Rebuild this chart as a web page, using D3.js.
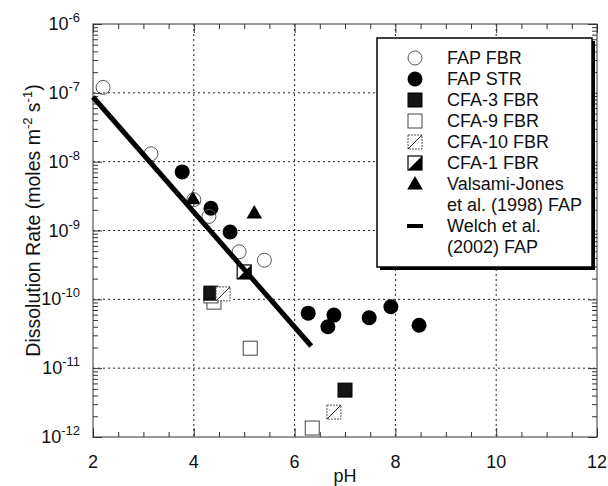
<!DOCTYPE html>
<html>
<head>
<meta charset="utf-8">
<script src="https://cdn.jsdelivr.net/npm/d3@7"></script>
<style>
  html, body { margin: 0; padding: 0; background: #fff; }
  svg { display: block; }
  text { font-family: "Liberation Sans", Arial, Helvetica, sans-serif; fill: #111; }
</style>
</head>
<body>
<svg id="chart" width="608" height="486"></svg>
<script>
// ---------------- data ----------------
const fapFbrPH   = [2.2, 3.15, 4.0, 4.3, 4.9, 5.4];
const fapFbrRate = [1.2e-7, 1.3e-8, 2.8e-9, 1.6e-9, 4.9e-10, 3.7e-10];

const fapStrPH   = [3.77, 4.34, 4.72, 6.27, 6.78, 6.66, 7.48, 7.91, 8.47];
const fapStrRate = [7.1e-9, 2.1e-9, 9.5e-10, 6.3e-11, 5.9e-11, 4.0e-11, 5.4e-11, 7.8e-11, 4.2e-11];

const cfa3PH   = [4.34, 7.0];
const cfa3Rate = [1.23e-10, 4.8e-12];

const cfa9PH   = [4.4, 4.34, 5.12, 6.35];
const cfa9Rate = [9.1e-11, 1.12e-10, 1.95e-11, 1.35e-12];

const cfa10PH   = [4.58, 6.78];
const cfa10Rate = [1.2e-10, 2.3e-12];

const cfa1PH   = [5.0];
const cfa1Rate = [2.5e-10];

const valsamiPH   = [3.98, 5.2];
const valsamiRate = [2.9e-9, 1.8e-9];

const welchPH   = [2.0, 6.33];
const welchRate = [8.7e-8, 2.1e-11];

const xTickValues = [2, 4, 6, 8, 10, 12];
const yTickExponents = [-6, -7, -8, -9, -10, -11, -12];

const legendLabels = [
  ["FAP FBR"], ["FAP STR"], ["CFA-3 FBR"], ["CFA-9 FBR"], ["CFA-10 FBR"],
  ["CFA-1 FBR"], ["Valsami-Jones", "et al. (1998) FAP"], ["Welch et al.", "(2002) FAP"]
];
const legendKeys = ["fapFbr", "fapStr", "cfa3", "cfa9", "cfa10", "cfa1", "valsami", "welch"];

const xLabel = "pH";

// ---------------- layout ----------------
const L = 93, R = 597, T = 24, B = 437;
const svg = d3.select("#chart");

const x = d3.scaleLinear().domain([2, 12]).range([L, R]);
const y = d3.scaleLog().domain([1e-12, 1e-6]).range([B, T]);

// grid (dotted)
const grid = svg.append("g");
[4, 6, 8, 10].forEach(v => {
  grid.append("line").attr("x1", x(v)).attr("x2", x(v)).attr("y1", T).attr("y2", B)
    .attr("stroke", "#222").attr("stroke-width", 1).attr("stroke-dasharray", "2,3");
});
[1e-7, 1e-8, 1e-9, 1e-10, 1e-11].forEach(v => {
  grid.append("line").attr("x1", L).attr("x2", R).attr("y1", y(v)).attr("y2", y(v))
    .attr("stroke", "#222").attr("stroke-width", 1).attr("stroke-dasharray", "2,3");
});

// frame
svg.append("rect").attr("x", L).attr("y", T).attr("width", R - L).attr("height", B - T)
  .attr("fill", "none").attr("stroke", "#555").attr("stroke-width", 1.2);

// ticks via d3 axes (inward)
const xMinor = d3.range(2, 12.01, 0.5).filter(v => v % 2 !== 0);
const yMinor = [];
for (let e = -12; e < -6; e++) for (let m = 2; m <= 9; m++) yMinor.push(m * Math.pow(10, e));

function styleAxis(g) {
  g.select(".domain").remove();
  g.selectAll(".tick line").attr("stroke", "#333").attr("stroke-width", 1);
  g.selectAll(".tick text").remove();
}
svg.append("g").attr("transform", `translate(0,${B})`)
  .call(d3.axisBottom(x).tickValues(xTickValues).tickSize(-9)).call(styleAxis);
svg.append("g").attr("transform", `translate(0,${B})`)
  .call(d3.axisBottom(x).tickValues(xMinor).tickSize(-5)).call(styleAxis);
svg.append("g").attr("transform", `translate(0,${T})`)
  .call(d3.axisTop(x).tickValues(xTickValues).tickSize(-9)).call(styleAxis);
svg.append("g").attr("transform", `translate(0,${T})`)
  .call(d3.axisTop(x).tickValues(xMinor).tickSize(-5)).call(styleAxis);
svg.append("g").attr("transform", `translate(${L},0)`)
  .call(d3.axisLeft(y).tickValues(yTickExponents.map(e => Math.pow(10, e))).tickSize(-9)).call(styleAxis);
svg.append("g").attr("transform", `translate(${L},0)`)
  .call(d3.axisLeft(y).tickValues(yMinor).tickSize(-5)).call(styleAxis);
svg.append("g").attr("transform", `translate(${R},0)`)
  .call(d3.axisRight(y).tickValues(yTickExponents.map(e => Math.pow(10, e))).tickSize(-9)).call(styleAxis);
svg.append("g").attr("transform", `translate(${R},0)`)
  .call(d3.axisRight(y).tickValues(yMinor).tickSize(-5)).call(styleAxis);

// tick labels
svg.append("g").selectAll("text").data(xTickValues).join("text")
  .attr("x", d => x(d)).attr("y", 468).attr("text-anchor", "middle")
  .attr("font-size", 18).text(d => d);

const yl = svg.append("g").selectAll("text").data(yTickExponents).join("text")
  .attr("x", 80).attr("y", d => y(Math.pow(10, d)) + 6).attr("text-anchor", "end")
  .attr("font-size", 18);
yl.append("tspan").text("10");
yl.append("tspan").attr("dy", -8).attr("font-size", 13).text(d => d);

// axis titles
svg.append("text").attr("x", (L + R) / 2).attr("y", 482).attr("text-anchor", "middle")
  .attr("font-size", 18).text(xLabel);

const yt = svg.append("text").attr("transform", `translate(40,${(T + B) / 2 - 10}) rotate(-90)`)
  .attr("text-anchor", "middle").attr("font-size", 19.5);
yt.append("tspan").text("Dissolution Rate (moles m");
yt.append("tspan").attr("dy", -8).attr("font-size", 13).text("-2");
yt.append("tspan").attr("dy", 8).text(" s");
yt.append("tspan").attr("dy", -8).attr("font-size", 13).text("-1");
yt.append("tspan").attr("dy", 8).text(")");

// ---------------- marks ----------------
const SQ = 14;
function drawMark(g, key, cx, cy) {
  const h = SQ / 2;
  if (key === "fapFbr") {
    g.append("circle").attr("cx", cx).attr("cy", cy).attr("r", 7)
      .attr("fill", "none").attr("stroke", "#555").attr("stroke-width", 1);
  } else if (key === "fapStr") {
    g.append("circle").attr("cx", cx).attr("cy", cy).attr("r", 7.5).attr("fill", "#000");
  } else if (key === "cfa3") {
    g.append("rect").attr("x", cx - h).attr("y", cy - h).attr("width", SQ).attr("height", SQ)
      .attr("fill", "#141414").attr("stroke", "#000").attr("stroke-width", 1);
  } else if (key === "cfa9") {
    g.append("rect").attr("x", cx - h).attr("y", cy - h).attr("width", SQ).attr("height", SQ)
      .attr("fill", "#fff").attr("stroke", "#444").attr("stroke-width", 1);
  } else if (key === "cfa10") {
    g.append("rect").attr("x", cx - h).attr("y", cy - h).attr("width", SQ).attr("height", SQ)
      .attr("fill", "#fff").attr("stroke", "#555").attr("stroke-width", 1).attr("stroke-dasharray", "2,1");
    g.append("line").attr("x1", cx - h).attr("y1", cy + h).attr("x2", cx + h).attr("y2", cy - h)
      .attr("stroke", "#222").attr("stroke-width", 1);
  } else if (key === "cfa1") {
    g.append("rect").attr("x", cx - h).attr("y", cy - h).attr("width", SQ).attr("height", SQ)
      .attr("fill", "#fff").attr("stroke", "#000").attr("stroke-width", 1.2);
    g.append("path").attr("d", `M${cx - h},${cy + h}L${cx + h},${cy - h}L${cx + h},${cy + h}Z`)
      .attr("fill", "#000");
  } else if (key === "valsami") {
    g.append("path").attr("transform", `translate(${cx},${cy + 1})`)
      .attr("d", d3.symbol(d3.symbolTriangle, 105)()).attr("fill", "#000");
  } else if (key === "welch") {
    g.append("line").attr("x1", cx - 8).attr("x2", cx + 8).attr("y1", cy).attr("y2", cy)
      .attr("stroke", "#000").attr("stroke-width", 4);
  }
}

const marks = svg.append("g");
function series(key, phs, rates) {
  phs.forEach((p, i) => drawMark(marks, key, x(p), y(rates[i])));
}
series("cfa9", cfa9PH, cfa9Rate);
series("cfa3", cfa3PH, cfa3Rate);
series("cfa10", cfa10PH, cfa10Rate);
series("cfa1", cfa1PH, cfa1Rate);
series("valsami", valsamiPH, valsamiRate);
series("fapStr", fapStrPH, fapStrRate);
series("fapFbr", fapFbrPH, fapFbrRate);

// Welch line
svg.append("path")
  .attr("d", d3.line().x((d, i) => x(welchPH[i])).y((d, i) => y(welchRate[i]))(welchPH))
  .attr("stroke", "#000").attr("stroke-width", 5).attr("fill", "none").attr("stroke-linecap", "butt");

// ---------------- legend ----------------
const lg = svg.append("g");
const LX = 377, LY = 38, LW = 215, LH = 229;
lg.append("rect").attr("x", LX + 3).attr("y", LY + 3).attr("width", LW).attr("height", LH).attr("fill", "#000");
lg.append("rect").attr("x", LX).attr("y", LY).attr("width", LW).attr("height", LH)
  .attr("fill", "#fff").attr("stroke", "#000").attr("stroke-width", 1.5);

let rowY = 58;
const rowH = 21;
legendKeys.forEach((k, i) => {
  drawMark(lg, k, 415, rowY);
  legendLabels[i].forEach((line, j) => {
    lg.append("text").attr("x", 447).attr("y", rowY + 6 + j * rowH).attr("font-size", 18).text(line);
  });
  rowY += rowH * legendLabels[i].length;
});
</script>
</body>
</html>
